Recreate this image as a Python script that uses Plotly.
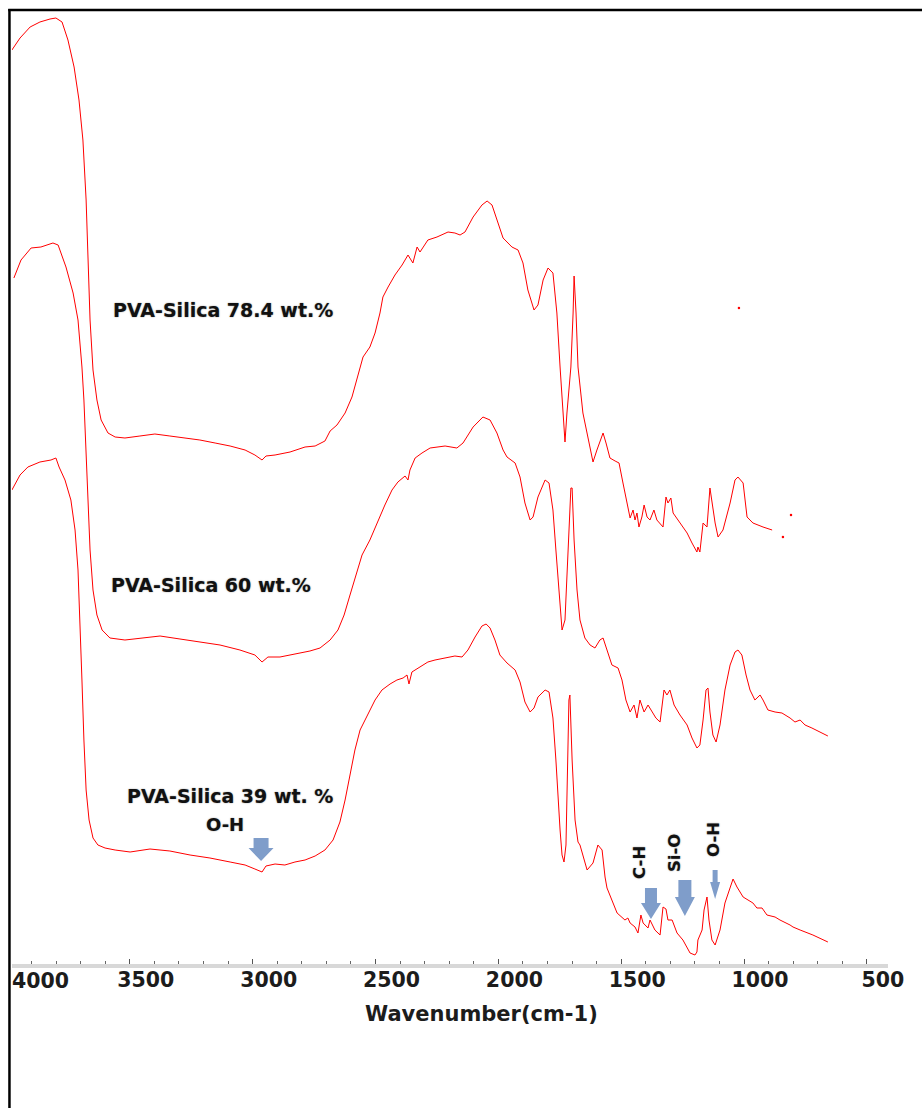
import plotly.graph_objects as go

# FTIR spectra of PVA-Silica hybrid films (offset traces, arbitrary intensity units)
wn_784 = [3980, 3947, 3906, 3866, 3825, 3801, 3776, 3752, 3727, 3707, 3691, 3678, 3670, 3662,
          3650, 3634, 3617, 3589, 3560, 3520, 3459, 3398, 3337, 3276, 3215, 3153, 3092, 3031,
          2991, 2962, 2946, 2909, 2848, 2787, 2746, 2706, 2685, 2657, 2624, 2596, 2576, 2563,
          2551, 2523, 2502, 2482, 2470, 2449, 2421, 2392, 2368, 2348, 2331, 2319, 2287, 2250,
          2205, 2177, 2156, 2136, 2103, 2067, 2046, 2026, 2006, 1981, 1945, 1920, 1900, 1880,
          1855, 1839, 1818, 1798, 1778, 1762, 1749, 1737, 1729, 1721, 1705, 1696, 1692, 1684,
          1676, 1656, 1635, 1615, 1599, 1574, 1562, 1546, 1525, 1509, 1493, 1473, 1464, 1452,
          1444, 1436, 1428, 1416, 1407, 1395, 1383, 1367, 1355, 1330, 1318, 1310, 1298, 1289,
          1261, 1232, 1212, 1192, 1188, 1180, 1167, 1151, 1139, 1131, 1118, 1106, 1086, 1057,
          1037, 1025, 1004, 988, 964, 923, 886]
sig_784 = [916, 928, 939, 944, 947, 948, 944, 926, 899, 866, 826, 766, 706, 646,
           596, 566, 546, 533, 529, 528, 530, 532, 530, 528, 526, 523, 520, 516,
           511, 506, 510, 511, 514, 519, 520, 525, 535, 541, 553, 569, 586, 599,
           609, 619, 633, 653, 669, 679, 691, 701, 711, 703, 719, 714, 726, 729,
           734, 733, 731, 734, 749, 761, 765, 761, 746, 728, 719, 716, 703, 676,
           656, 661, 686, 698, 693, 653, 599, 553, 524, 553, 599, 653, 690, 653,
           599, 553, 526, 504, 516, 533, 523, 508, 505, 503, 483, 459, 448, 456,
           446, 453, 439, 449, 461, 449, 446, 456, 446, 439, 469, 463, 468, 453,
           443, 433, 423, 414, 419, 414, 443, 439, 478, 463, 443, 429, 436, 463,
           486, 489, 483, 449, 443, 439, 436]
# isolated data points recorded past the end of the 78.4 wt.% scan
wn_784_pts = [1021, 842, 809]
sig_784_pts = [658, 429, 451]

wn_60 = [3972, 3943, 3902, 3862, 3813, 3792, 3760, 3731, 3711, 3695, 3687, 3678, 3670, 3662,
         3650, 3634, 3613, 3581, 3520, 3459, 3377, 3296, 3215, 3133, 3052, 2991, 2962, 2938,
         2889, 2828, 2767, 2726, 2685, 2653, 2628, 2604, 2580, 2555, 2523, 2490, 2462, 2433,
         2409, 2380, 2368, 2360, 2339, 2311, 2278, 2217, 2169, 2144, 2103, 2063, 2034, 2006,
         1981, 1965, 1932, 1912, 1892, 1871, 1859, 1839, 1810, 1794, 1778, 1766, 1757, 1749,
         1741, 1729, 1717, 1709, 1705, 1700, 1692, 1680, 1668, 1648, 1627, 1607, 1587, 1574,
         1558, 1538, 1513, 1497, 1481, 1464, 1448, 1436, 1424, 1407, 1391, 1375, 1359, 1342,
         1326, 1314, 1302, 1285, 1261, 1232, 1212, 1192, 1180, 1167, 1155, 1147, 1139, 1127,
         1114, 1098, 1078, 1057, 1037, 1025, 1009, 992, 976, 956, 935, 923, 903, 874, 846, 813,
         793, 772, 752, 724, 691, 659]
sig_60 = [688, 706, 718, 719, 723, 721, 699, 673, 646, 599, 566, 516, 466, 416,
          376, 351, 336, 328, 326, 328, 330, 327, 324, 321, 316, 311, 304, 309,
          309, 312, 315, 318, 326, 336, 351, 371, 391, 411, 426, 446, 461, 476,
          484, 490, 486, 496, 508, 513, 518, 520, 518, 523, 539, 549, 546, 533,
          516, 509, 503, 489, 463, 446, 449, 469, 486, 483, 456, 416, 386, 356,
          336, 346, 406, 446, 478, 478, 426, 376, 346, 328, 321, 318, 326, 328,
          316, 301, 298, 286, 266, 254, 261, 248, 266, 254, 261, 254, 248, 244,
          276, 271, 276, 261, 251, 241, 228, 218, 221, 246, 276, 278, 254, 231,
          224, 241, 276, 301, 314, 316, 311, 291, 276, 266, 271, 266, 256, 254, 253, 248,
          244, 246, 241, 238, 234, 230]

wn_39 = [3980, 3947, 3915, 3866, 3821, 3801, 3788, 3764, 3740, 3723, 3711, 3703, 3695, 3687,
         3678, 3666, 3650, 3630, 3601, 3560, 3499, 3418, 3337, 3255, 3174, 3092, 3031, 2991,
         2962, 2946, 2909, 2869, 2828, 2787, 2746, 2706, 2673, 2645, 2624, 2604, 2584, 2563,
         2531, 2502, 2474, 2441, 2413, 2388, 2372, 2364, 2352, 2339, 2319, 2287, 2258, 2217,
         2177, 2148, 2124, 2095, 2067, 2050, 2034, 2014, 1994, 1965, 1932, 1912, 1892, 1871,
         1855, 1839, 1810, 1794, 1778, 1766, 1757, 1749, 1741, 1733, 1725, 1717, 1713, 1709,
         1700, 1688, 1676, 1668, 1639, 1615, 1595, 1578, 1566, 1558, 1538, 1517, 1485, 1473,
         1464, 1444, 1432, 1420, 1411, 1391, 1383, 1363, 1342, 1330, 1318, 1310, 1293, 1273,
         1249, 1220, 1200, 1192, 1188, 1171, 1163, 1151, 1143, 1131, 1118, 1098, 1078, 1061,
         1045, 1029, 1004, 964, 948, 927, 907, 874, 854, 813, 801, 772, 720, 659]
sig_39 = [476, 491, 499, 504, 506, 508, 499, 486, 466, 436, 396, 346, 286, 226,
          176, 146, 128, 121, 118, 116, 114, 117, 115, 111, 108, 104, 101, 97,
          94, 100, 102, 101, 104, 106, 110, 116, 126, 144, 166, 191, 216, 236,
          251, 266, 276, 282, 286, 288, 291, 282, 294, 296, 299, 304, 306, 308,
          310, 309, 316, 329, 340, 342, 338, 326, 311, 303, 296, 284, 264, 254,
          258, 269, 276, 274, 248, 206, 166, 136, 111, 104, 121, 206, 266, 271,
          206, 146, 124, 121, 96, 103, 121, 116, 89, 78, 66, 53, 46, 48,
          43, 39, 33, 51, 43, 38, 46, 36, 31, 59, 57, 46, 46, 33,
          26, 13, 11, 14, 26, 36, 56, 69, 46, 26, 21, 36, 63, 76,
          87, 79, 69, 63, 58, 58, 51, 49, 46, 41, 39, 36, 31, 24]

tick_values = [4000, 3500, 3000, 2500, 2000, 1500, 1000, 500]
tick_labels = ["", "3500", "3000", "2500", "2000", "1500", "1000", "500"]
first_tick_label = "4000"

sample_labels = ["PVA-Silica 78.4 wt.%", "PVA-Silica 60 wt.%", "PVA-Silica 39 wt. %"]
sample_label_x = [3121, 3170, 3092]
sample_label_y = [656, 381, 170]

# band assignments: text, text position, arrow tip, arrow geometry (px)
band_text = ["O-H", "C-H", "Si-O", "O-H"]
band_text_x = [3113, 1428, 1285, 1127]
band_text_y = [142, 104, 113, 127]
band_text_angle = [0, -90, -90, -90]
arrow_tip_x = [2966, 1379, 1241, 1118]
arrow_tip_y = [105, 47, 50, 67]
arrow_len = [23, 31, 36, 29]
arrow_head_len = [13, 16, 19, 17]
arrow_head_half = [12.5, 10, 10, 5]
arrow_shaft_half = [7.5, 6, 6.5, 2.5]

RED = "rgb(255,0,0)"
FONT = "DejaVu Sans"
ARROW_COLOR = "#7f9dca"

fig = go.Figure()
for wn, sig in [(wn_784, sig_784), (wn_60, sig_60), (wn_39, sig_39)]:
    fig.add_trace(go.Scatter(x=wn, y=sig, mode="lines",
                             line=dict(color=RED, width=1), hoverinfo="skip",
                             showlegend=False))
fig.add_trace(go.Scatter(x=wn_784_pts, y=sig_784_pts, mode="markers",
                         marker=dict(color=RED, size=2.5), hoverinfo="skip",
                         showlegend=False))

annotations = []
label_font = dict(family=FONT, size=19, color="#111111",
                  shadow="0px 0px 1.5px rgba(0,0,0,0.45)")
for text, x, y in zip(sample_labels, sample_label_x, sample_label_y):
    annotations.append(dict(x=x, y=y, xref="x", yref="y", text="<b>%s</b>" % text,
                            showarrow=False, font=label_font,
                            xanchor="center", yanchor="middle"))
for i, text in enumerate(band_text):
    size = 18 if band_text_angle[i] == 0 else 16.5
    annotations.append(dict(x=band_text_x[i], y=band_text_y[i], xref="x", yref="y",
                            text="<b>%s</b>" % text, showarrow=False,
                            textangle=band_text_angle[i],
                            font=dict(family=FONT, size=size, color="#111111",
                                      shadow="0px 0px 1.5px rgba(0,0,0,0.45)"),
                            xanchor="center", yanchor="middle"))

tick_font = dict(family=FONT, size=20.5, color="#1c1c1c")
# first tick label sits just inside the frame
annotations.append(dict(x=0.0331, y=0, xref="paper", yref="paper",
                        text="<b>%s</b>" % first_tick_label,
                        showarrow=False, font=tick_font, xanchor="center",
                        yanchor="top", yshift=-3))
annotations.append(dict(x=0.536, y=-0.0528, xref="paper", yref="paper",
                        text="<b>Wavenumber(cm-1)</b>", showarrow=False,
                        font=dict(family=FONT, size=21, color="#1c1c1c"),
                        xanchor="center", yanchor="middle"))

shapes = []
for i in range(len(arrow_tip_x)):
    L, H = arrow_len[i], arrow_head_len[i]
    hw, sw = arrow_head_half[i], arrow_shaft_half[i]
    path = (f"M 0 0 L {-hw} {H} L {-sw} {H} L {-sw} {L} L {sw} {L} "
            f"L {sw} {H} L {hw} {H} Z")
    shapes.append(dict(type="path", xref="x", yref="y", xsizemode="pixel",
                       ysizemode="pixel", xanchor=arrow_tip_x[i],
                       yanchor=arrow_tip_y[i], path=path,
                       fillcolor=ARROW_COLOR, line=dict(width=0)))

# black frame along the left and top of the figure
shapes.append(dict(type="line", xref="paper", yref="paper", x0=-0.0029, x1=-0.0029,
                   y0=-0.153, y1=1.0085, line=dict(color="black", width=2.5)))
shapes.append(dict(type="line", xref="paper", yref="paper", x0=-0.0043, x1=1.04,
                   y0=1.0074, y1=1.0074, line=dict(color="black", width=2.5)))

fig.update_layout(
    width=922, height=1108,
    margin=dict(l=12, r=34, t=17, b=144),
    paper_bgcolor="white", plot_bgcolor="white",
    annotations=annotations, shapes=shapes,
    xaxis=dict(range=[3979.66, 414.34], showgrid=False, zeroline=False,
               showline=True, linecolor="#d8d8d8", linewidth=4,
               tickvals=tick_values, ticktext=[f"<b>{t}</b>" if t else "" for t in tick_labels],
               ticks="inside", ticklen=5, tickwidth=1, tickcolor="#555555",
               tickfont=tick_font, ticklabelshift=-16, ticklabelstandoff=-6,
               minor=dict(dtick=100, ticks="inside", ticklen=3, tickwidth=1,
                          tickcolor="#666666")),
    yaxis=dict(range=[2, 949], visible=False, showgrid=False, zeroline=False),
)

fig.write_html("out.html")
